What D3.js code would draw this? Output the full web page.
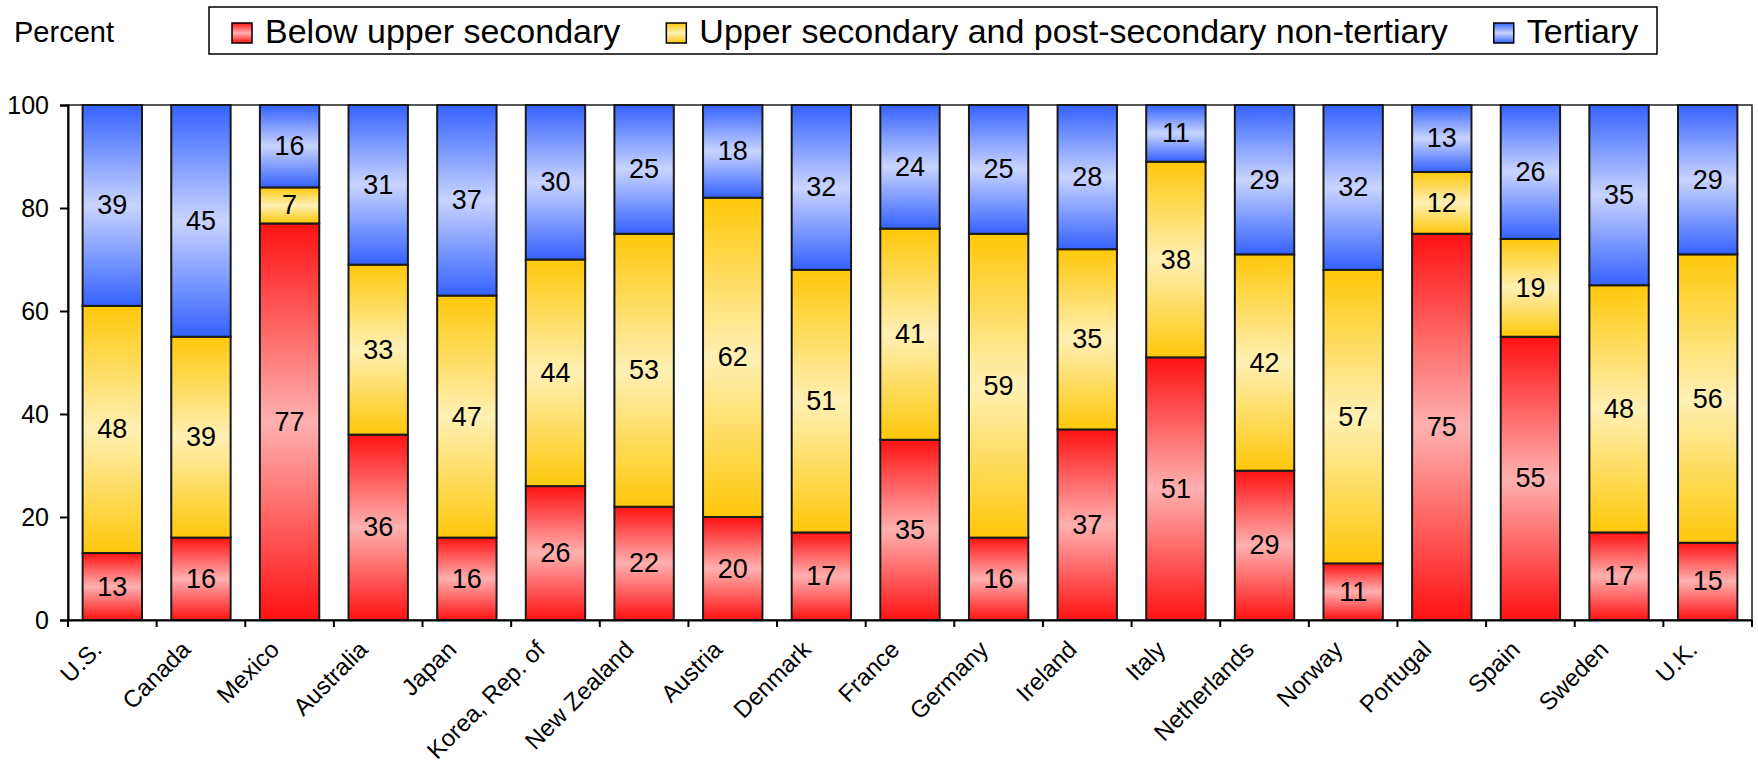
<!DOCTYPE html>
<html>
<head>
<meta charset="utf-8">
<script src="https://cdnjs.cloudflare.com/ajax/libs/d3/7.8.5/d3.min.js"></script>
<style>
  body { margin: 0; background: #fff; }
  text { font-family: "Liberation Sans", Arial, sans-serif; fill: #000; }
</style>
</head>
<body>
<svg id="chart" width="1758" height="767"></svg>
<script>
const countries = ['U.S.', 'Canada', 'Mexico', 'Australia', 'Japan', 'Korea, Rep. of', 'New Zealand',
  'Austria', 'Denmark', 'France', 'Germany', 'Ireland', 'Italy', 'Netherlands', 'Norway',
  'Portugal', 'Spain', 'Sweden', 'U.K.'];
const belowUpper = [13, 16, 77, 36, 16, 26, 22, 20, 17, 35, 16, 37, 51, 29, 11, 75, 55, 17, 15];
const upperSecondary = [48, 39, 7, 33, 47, 44, 53, 62, 51, 41, 59, 35, 38, 42, 57, 12, 19, 48, 56];
const tertiary = [39, 45, 16, 31, 37, 30, 25, 18, 32, 24, 25, 28, 11, 29, 32, 13, 26, 35, 29];
const seriesNames = ['Below upper secondary', 'Upper secondary and post-secondary non-tertiary', 'Tertiary'];
const yTicks = [0, 20, 40, 60, 80, 100];

const svg = d3.select('#chart');
const plotL = 68, plotR = 1752, plotT = 105, plotB = 620;

// gradient fills: dark at both edges, light in the middle
const grads = [
  { id: 'g-red', edge: '#ff1212', mid: '#ffb0b0' },
  { id: 'g-yel', edge: '#ffc80a', mid: '#fff0b4' },
  { id: 'g-blu', edge: '#3562ff', mid: '#c8d4ff' }
];
const defs = svg.append('defs');
grads.forEach(g => {
  const lg = defs.append('linearGradient').attr('id', g.id)
    .attr('x1', 0).attr('y1', 0).attr('x2', 0).attr('y2', 1);
  lg.append('stop').attr('offset', '0%').attr('stop-color', g.edge);
  lg.append('stop').attr('offset', '50%').attr('stop-color', g.mid);
  lg.append('stop').attr('offset', '100%').attr('stop-color', g.edge);
});

const x = d3.scaleBand().domain(countries).range([plotL, plotR])
  .paddingInner(0.33).paddingOuter(0.165);
const y = d3.scaleLinear().domain([0, 100]).range([plotB, plotT]);

const rows = countries.map((c, i) => ({ country: c, s0: belowUpper[i], s1: upperSecondary[i], s2: tertiary[i] }));
const layers = d3.stack().keys(['s0', 's1', 's2'])(rows);

// plot frame
svg.append('rect').attr('x', plotL).attr('y', plotT)
  .attr('width', plotR - plotL).attr('height', plotB - plotT)
  .attr('fill', 'none').attr('stroke', '#222').attr('stroke-width', 1.5);

const layerG = svg.selectAll('g.layer').data(layers).enter().append('g').attr('class', 'layer');
layerG.selectAll('rect').data((d, i) => d.map(p => ({ p, i })))
  .enter().append('rect')
  .attr('x', d => x(d.p.data.country))
  .attr('width', x.bandwidth())
  .attr('y', d => y(d.p[1]))
  .attr('height', d => y(d.p[0]) - y(d.p[1]))
  .attr('fill', d => `url(#${grads[d.i].id})`)
  .attr('stroke', '#1a1a1a').attr('stroke-width', 2);

layerG.selectAll('text').data(d => d)
  .enter().append('text')
  .attr('x', d => x(d.data.country) + x.bandwidth() / 2)
  .attr('y', d => y((d[0] + d[1]) / 2))
  .attr('text-anchor', 'middle')
  .attr('dominant-baseline', 'central')
  .style('font-size', '27px')
  .text(d => d[1] - d[0]);

// y axis
const yAxis = svg.append('g').attr('transform', `translate(${plotL},0)`)
  .call(d3.axisLeft(y).tickValues(yTicks).tickSize(8).tickPadding(11));
yAxis.selectAll('text').style('font-size', '25px');
yAxis.selectAll('line, path').attr('stroke', '#000').attr('stroke-width', 2);

// x axis with ticks between categories
const xAxis = svg.append('g').attr('transform', `translate(0,${plotB})`)
  .call(d3.axisBottom(x).tickSize(0).tickFormat(''));
xAxis.select('path').attr('stroke', '#000').attr('stroke-width', 2);
const half = x.step() * x.paddingInner() / 2;
const bounds = countries.map(c => x(c) - half)
  .concat([x(countries[countries.length - 1]) + x.bandwidth() + half]);
svg.append('g').selectAll('line').data(bounds).enter().append('line')
  .attr('x1', d => d).attr('x2', d => d)
  .attr('y1', plotB).attr('y2', plotB + 7)
  .attr('stroke', '#000').attr('stroke-width', 2);

svg.append('g').selectAll('text').data(countries).enter().append('text')
  .attr('transform', d => `translate(${x(d) + x.bandwidth() / 2 - 9},${plotB + 31}) rotate(-45)`)
  .attr('text-anchor', 'end')
  .style('font-size', '24px')
  .text(d => d);

svg.append('text').attr('x', 14).attr('y', 42).style('font-size', '29px').text('Percent');

// legend
svg.append('rect').attr('x', 209).attr('y', 7).attr('width', 1448).attr('height', 47)
  .attr('fill', '#fff').attr('stroke', '#000').attr('stroke-width', 1.5);
let lx = 232;
seriesNames.forEach((name, i) => {
  svg.append('rect').attr('x', lx).attr('y', 23).attr('width', 20).attr('height', 20)
    .attr('fill', `url(#${grads[i].id})`).attr('stroke', '#000').attr('stroke-width', 1.5);
  const t = svg.append('text').attr('x', lx + 33).attr('y', 43)
    .style('font-size', '34px').text(name);
  lx = lx + 33 + t.node().getComputedTextLength() + 46;
});
</script>
</body>
</html>
